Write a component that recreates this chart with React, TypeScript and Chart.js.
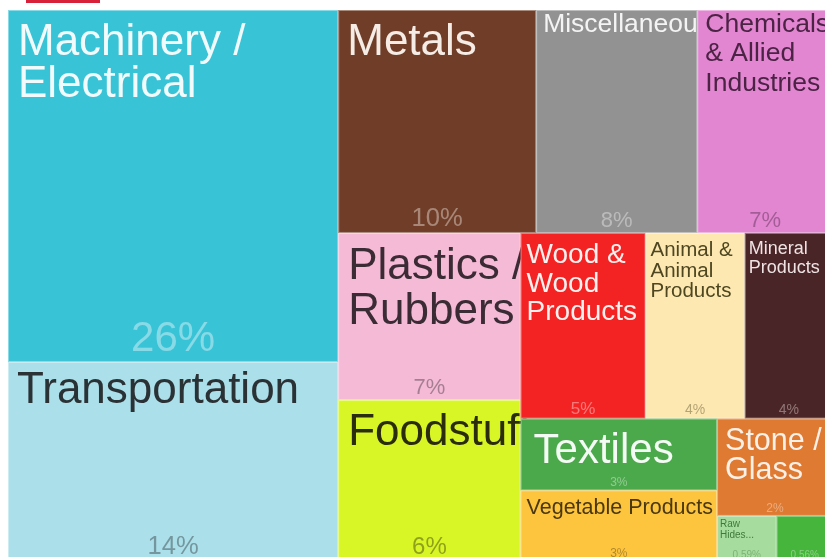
import React, { useEffect, useRef } from "react";
import { Chart, registerables } from "chart.js";

Chart.register(...registerables);

// ---- data ----
const categories = [
  "Machinery /\nElectrical",
  "Transportation",
  "Metals",
  "Miscellaneous",
  "Chemicals\n& Allied\nIndustries",
  "Plastics /\nRubbers",
  "Foodstuffs",
  "Wood &\nWood\nProducts",
  "Animal &\nAnimal\nProducts",
  "Mineral\nProducts",
  "Textiles",
  "Vegetable Products",
  "Stone /\nGlass",
  "Raw\nHides...",
  "Footwear / Headwear",
];
const shares = [25.55, 14.45, 9.7, 7.9, 6.65, 6.7, 6.45, 5.1, 4.05, 3.6, 3.1, 3.05, 2.48, 0.59, 0.56];
const showName = [true, true, true, true, true, true, true, true, true, true, true, true, true, true, false];

// nesting of the treemap (h = side by side, v = stacked); leaves are category indexes
const layoutTree: any = [
  "h",
  ["v", 0, 1],
  ["v", ["h", 2, 3, 4], ["h", ["v", 5, 6], ["v", ["h", 7, 8, 9], ["h", ["v", 10, 11], ["v", 12, ["h", 13, 14]]]]]],
];

// ---- styles ----
const fillColors = [
  "#39c3d6", "#abdfe9", "#703e28", "#929292", "#e286d1", "#f4bad6", "#d8f625", "#f32323",
  "#fde8b2", "#4a2527", "#4ba94b", "#fdc43d", "#df7a32", "#a7dc9f", "#46b53b",
];
const labelColors = [
  "#f2fbfc", "#2b3236", "#f5ece6", "#f4f4f4", "#4b2345", "#3a2b34", "#2a2c0c", "#fff0f0",
  "#4d4620", "#efe3e3", "#f4fbf4", "#4a3810", "#fdf0e6", "#3f7a3a", "#e8f8e6",
];
const nameFont = [44, 44, 44, 26.5, 26.5, 44, 44, 28, 20.5, 18, 42, 21.5, 30.5, 10, 10];
const lineFactor = [0.96, 1, 1, 1, 1.11, 1.02, 1, 1.02, 1, 1.05, 1, 1, 0.95, 1.1, 1];
const padLeft = [10, 9, 9, 7, 8, 10, 10, 6, 5, 4, 13, 6, 8, 3, 3];
const padTop = [13, 10, 13, 3, 3, 15, 13, 10, 8.5, 8, 14, 8, 10, 4, 4];
const pctFont = [42, 25.6, 25.6, 22, 22, 22, 24, 17, 14, 14, 12, 12, 12, 10, 10];

const FONT = '"Liberation Sans", Arial, Helvetica, sans-serif';

function total(node: any): number {
  if (typeof node === "number") return shares[node];
  return node.slice(1).reduce((s: number, c: any) => s + total(c), 0);
}

function layout(node: any, x0: number, y0: number, x1: number, y1: number, out: any[]) {
  if (typeof node === "number") {
    out[node] = { x0, y0, x1, y1 };
    return;
  }
  const dir = node[0];
  const kids = node.slice(1);
  const t = total(node);
  let pos = dir === "h" ? x0 : y0;
  for (const k of kids) {
    const f = total(k) / t;
    if (dir === "h") {
      const w = (x1 - x0) * f;
      layout(k, pos, y0, pos + w, y1, out);
      pos += w;
    } else {
      const h = (y1 - y0) * f;
      layout(k, x0, pos, x1, pos + h, out);
      pos += h;
    }
  }
}

const cells: any[] = [];
layout(layoutTree, 0, 0, 1, 1, cells);

function fmtPct(v: number) {
  return v >= 1 ? Math.round(v) + "%" : v.toFixed(2) + "%";
}

function withAlpha(hex: string, a: number) {
  const r = parseInt(hex.slice(1, 3), 16);
  const g = parseInt(hex.slice(3, 5), 16);
  const b = parseInt(hex.slice(5, 7), 16);
  return `rgba(${r},${g},${b},${a})`;
}

const treemapPlugin = {
  id: "treemapCells",
  beforeDatasetsDraw(chart: any) {
    const { ctx } = chart;
    const xs = chart.scales.x;
    const ys = chart.scales.y;
    ctx.save();
    for (let i = 0; i < categories.length; i++) {
      const c = cells[i];
      const px0 = xs.getPixelForValue(c.x0);
      const px1 = xs.getPixelForValue(c.x1);
      const py0 = ys.getPixelForValue(c.y0);
      const py1 = ys.getPixelForValue(c.y1);
      const w = px1 - px0;
      const h = py1 - py0;
      ctx.fillStyle = fillColors[i];
      ctx.fillRect(px0, py0, w, h);
      ctx.strokeStyle = "rgba(255,255,255,0.4)";
      ctx.lineWidth = 1;
      ctx.strokeRect(px0 + 0.5, py0 + 0.5, w - 1, h - 1);

      ctx.textBaseline = "alphabetic";
      if (showName[i]) {
        const fs = nameFont[i];
        ctx.font = `${fs}px ${FONT}`;
        ctx.fillStyle = labelColors[i];
        ctx.textAlign = "left";
        const lines = categories[i].split("\n");
        let by = py0 + padTop[i] + 0.716 * fs;
        for (const ln of lines) {
          ctx.fillText(ln, px0 + padLeft[i], by);
          by += fs * lineFactor[i];
        }
      }
      const pf = pctFont[i];
      ctx.font = `${pf}px ${FONT}`;
      ctx.textAlign = "center";
      ctx.fillStyle = withAlpha(labelColors[i], 0.42);
      ctx.fillText(fmtPct(shares[i]), px0 + w / 2, py1 - 0.24 * pf - 1);
    }
    ctx.restore();
  },
};

export default function App() {
  const ref = useRef<HTMLCanvasElement | null>(null);
  useEffect(() => {
    if (!ref.current) return;
    const points = cells.map((c: any) => ({ x: (c.x0 + c.x1) / 2, y: (c.y0 + c.y1) / 2 }));
    const chart = new Chart(ref.current, {
      type: "scatter",
      data: {
        labels: categories,
        datasets: [{ label: "Share", data: points, pointRadius: 0, pointHoverRadius: 0 }],
      },
      options: {
        animation: false,
        responsive: true,
        maintainAspectRatio: false,
        layout: { padding: { left: 8, top: 10, right: 12, bottom: 14 } },
        scales: {
          x: { type: "linear", min: 0, max: 1, display: false },
          y: { type: "linear", min: 0, max: 1, reverse: true, display: false },
        },
        plugins: { legend: { display: false }, tooltip: { enabled: false } },
        events: [],
      },
      plugins: [treemapPlugin],
    });
    return () => chart.destroy();
  }, []);

  return (
    <div style={{ position: "fixed", left: 0, top: 0, width: 825, height: 557, overflow: "hidden", background: "#fff" }}>
      <div style={{ position: "absolute", left: 0, top: 0, width: 845, height: 575 }}>
        <canvas ref={ref} />
      </div>
      <div style={{ position: "absolute", left: 26, top: 0, width: 74, height: 3, background: "#d7213b" }} />
    </div>
  );
}
